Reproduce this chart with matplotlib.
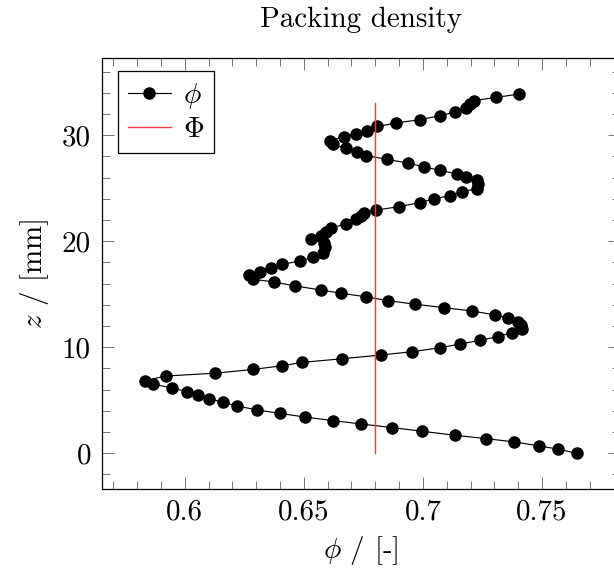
import matplotlib
matplotlib.use("Agg")
import matplotlib.pyplot as plt
from matplotlib.ticker import FixedLocator, FixedFormatter, MultipleLocator

# ---- data ----
phi = [0.7646, 0.7569, 0.7489, 0.7384, 0.7266, 0.7133, 0.6995, 0.6872, 0.6742, 0.6623,
       0.6503, 0.6398, 0.6305, 0.6221, 0.6161, 0.6103, 0.6057, 0.6011, 0.5946, 0.5865,
       0.5834, 0.5922, 0.6126, 0.6287, 0.6407, 0.6492, 0.6662, 0.6824, 0.6954, 0.7073,
       0.7157, 0.7241, 0.7315, 0.7373, 0.7415, 0.7412, 0.7399, 0.7359, 0.7303, 0.7206,
       0.7087, 0.6968, 0.6852, 0.6759, 0.6657, 0.6570, 0.6465, 0.6374, 0.6286, 0.6269,
       0.6316, 0.6363, 0.6409, 0.6486, 0.6538, 0.6581, 0.6587, 0.6583, 0.6531, 0.6570,
       0.6591, 0.6612, 0.6675, 0.6717, 0.6738, 0.6754, 0.6805, 0.6898, 0.6986, 0.7045,
       0.7112, 0.7164, 0.7226, 0.7232, 0.7228, 0.7182, 0.7144, 0.7070, 0.7006, 0.6937,
       0.6848, 0.6763, 0.6722, 0.6675, 0.6621, 0.6608, 0.6668, 0.6721, 0.6767, 0.6809,
       0.6889, 0.6986, 0.7070, 0.7134, 0.7182, 0.7199, 0.7215, 0.7308, 0.7405]
z = [0.00, 0.38, 0.69, 1.07, 1.38, 1.70, 2.08, 2.42, 2.76, 3.08,
     3.42, 3.77, 4.08, 4.46, 4.81, 5.15, 5.50, 5.81, 6.16, 6.54,
     6.85, 7.29, 7.55, 7.91, 8.25, 8.57, 8.92, 9.27, 9.58, 9.96,
     10.31, 10.66, 11.00, 11.38, 11.70, 12.10, 12.42, 12.74, 13.05, 13.42,
     13.74, 14.06, 14.40, 14.77, 15.09, 15.41, 15.78, 16.16, 16.42, 16.82,
     17.13, 17.45, 17.83, 18.14, 18.49, 18.90, 19.46, 19.84, 20.19, 20.50,
     20.88, 21.23, 21.63, 22.08, 22.39, 22.67, 22.95, 23.26, 23.64, 23.99,
     24.30, 24.68, 24.95, 25.45, 25.78, 26.02, 26.35, 26.70, 27.00, 27.39,
     27.72, 28.09, 28.40, 28.77, 29.13, 29.46, 29.87, 30.12, 30.45, 30.83,
     31.16, 31.47, 31.84, 32.18, 32.55, 32.91, 33.28, 33.57, 33.90]

Phi_value = 0.68
Phi_z = [0.0, 33.0]

xtick_values = [0.6, 0.65, 0.7, 0.75]
xtick_labels = ["0.6", "0.65", "0.7", "0.75"]
ytick_values = [0, 10, 20, 30]
ytick_labels = ["0", "10", "20", "30"]

title = "Packing density"
xlabel = r"$\phi$ / [-]"
ylabel = r"$z$ / [mm]"
series_label = r"$\phi$"
mean_label = r"$\Phi$"

# ---- style ----
FS = 20.9
plt.rcParams.update({
    "font.family": "serif",
    "font.serif": ["cmr10", "DejaVu Serif"],
    "mathtext.fontset": "cm",
    "axes.formatter.use_mathtext": True,
    "axes.unicode_minus": False,
    "font.size": FS,
})

fig = plt.figure(figsize=(6.14, 5.74), dpi=100)
W, H = 614.0, 574.0
left_px, right_px, top_px, bottom_px = 102.0, 620.0, 58.0, 489.2
ax = fig.add_axes([left_px / W, (H - bottom_px) / H,
                   (right_px - left_px) / W, (bottom_px - top_px) / H])

ax.plot(phi, z, "-o", color="black", lw=0.84, ms=8, label=series_label)
ax.plot([Phi_value, Phi_value], Phi_z, color="#f23c3c", lw=1.0, label=mean_label)

# pgfplots-like 10% enlargement of limits
xmin, xmax = min(phi), max(phi)
zmin, zmax = min(z), max(z)
dx, dz = xmax - xmin, zmax - zmin
ax.set_xlim(xmin - 0.1 * dx, xmax + 0.1 * dx)
ax.set_ylim(zmin - 0.1 * dz, zmax + 0.1 * dz)

ax.xaxis.set_major_locator(FixedLocator(xtick_values))
ax.xaxis.set_major_formatter(FixedFormatter(xtick_labels))
ax.xaxis.set_minor_locator(MultipleLocator(0.01))
ax.yaxis.set_major_locator(FixedLocator(ytick_values))
ax.yaxis.set_major_formatter(FixedFormatter(ytick_labels))
ax.yaxis.set_minor_locator(MultipleLocator(2))

ax.tick_params(which="both", direction="in", top=True, right=True, color="0.45", width=0.7)
ax.tick_params(which="major", length=8.6)
ax.tick_params(which="minor", length=5.8)
ax.tick_params(axis="x", which="major", pad=7, labelsize=FS)
ax.tick_params(axis="y", which="major", pad=8, labelsize=FS)

for s in ax.spines.values():
    s.set_linewidth(0.9)
    s.set_color("black")

ax.set_title(title, pad=22, fontsize=FS)
ax.set_xlabel(xlabel, fontsize=FS, labelpad=6)
ax.set_ylabel(ylabel, fontsize=FS, labelpad=8)

leg = ax.legend(loc="upper left", bbox_to_anchor=(0.03, 0.97), borderaxespad=0,
                frameon=True, fancybox=False, edgecolor="black", framealpha=1,
                handlelength=1.5, handletextpad=0.4, borderpad=0.35,
                labelspacing=0.2, fontsize=FS)
leg.get_frame().set_linewidth(0.9)

fig.savefig("out.png", dpi=100)
